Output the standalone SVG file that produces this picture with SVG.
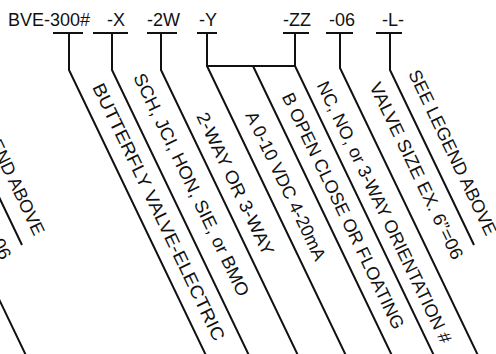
<svg xmlns="http://www.w3.org/2000/svg" width="496" height="354" viewBox="0 0 496 354">
<style>
.t{font-family:"Liberation Sans",Arial,sans-serif;font-size:18px;fill:#111}
.l{fill:none;stroke:#111;stroke-width:2;stroke-linejoin:miter}
</style>
<rect width="496" height="354" fill="#fff"/>
<g id="codes">
<text class="t" x="8" y="26">BVE-300#</text>
<text class="t" x="107" y="26">-X</text>
<text class="t" x="147" y="26">-2W</text>
<text class="t" x="199" y="26">-Y</text>
<text class="t" x="283" y="26">-ZZ</text>
<text class="t" x="329" y="26">-06</text>
<text class="t" x="382" y="26">-L-</text>
</g>
<g id="connectors" class="l">
<path d="M53,33H83M69,33V70L208.2,360"/>
<path d="M93,33H128M112,33V70L251.2,360"/>
<path d="M147,33H177M161,33V70L300.2,360"/>
<path d="M197,33H217M207,33V66H295M207,66L348.1,360M253,66L394.1,360"/>
<path d="M283,33H309M295,33V66L436.1,360"/>
<path d="M326,33H353M340,33V68L480.2,360"/>
<path d="M376,33H402M390,33V70L474,245"/>
</g>
<g id="labels">
<text class="t" transform="translate(92,87) rotate(64.4)" textLength="283" lengthAdjust="spacingAndGlyphs">BUTTERFLY VALVE-ELECTRIC</text>
<text class="t" transform="translate(133,77) rotate(64.4)" textLength="245" lengthAdjust="spacingAndGlyphs">SCH, JCI, HON, SIE, or BMO</text>
<text class="t" transform="translate(196,116) rotate(64.4)" textLength="156" lengthAdjust="spacingAndGlyphs">2-WAY OR 3-WAY</text>
<text class="t" transform="translate(245,115) rotate(64.4)">A 0-10 VDC 4-20mA</text>
<text class="t" transform="translate(281.5,96.5) rotate(64.4)">B OPEN CLOSE OR FLOATING</text>
<text class="t" transform="translate(316.5,85) rotate(64.4)" textLength="288" lengthAdjust="spacingAndGlyphs">NC, NO, or 3-WAY ORIENTATION #</text>
<text class="t" transform="translate(369,86) rotate(64.4)" textLength="194" lengthAdjust="spacingAndGlyphs">VALVE SIZE EX. 6”=06</text>
<text class="t" transform="translate(408,73.5) rotate(64.4)">SEE LEGEND ABOVE</text>
</g>
<g id="left-copy" transform="translate(-452,0)">
<path class="l" d="M340,68L480.2,360M390,70L474,245"/>
<text class="t" transform="translate(369,86) rotate(64.4)" textLength="194" lengthAdjust="spacingAndGlyphs">VALVE SIZE EX. 6”=06</text>
<text class="t" transform="translate(408,73.5) rotate(64.4)">SEE LEGEND ABOVE</text>
</g>
</svg>
